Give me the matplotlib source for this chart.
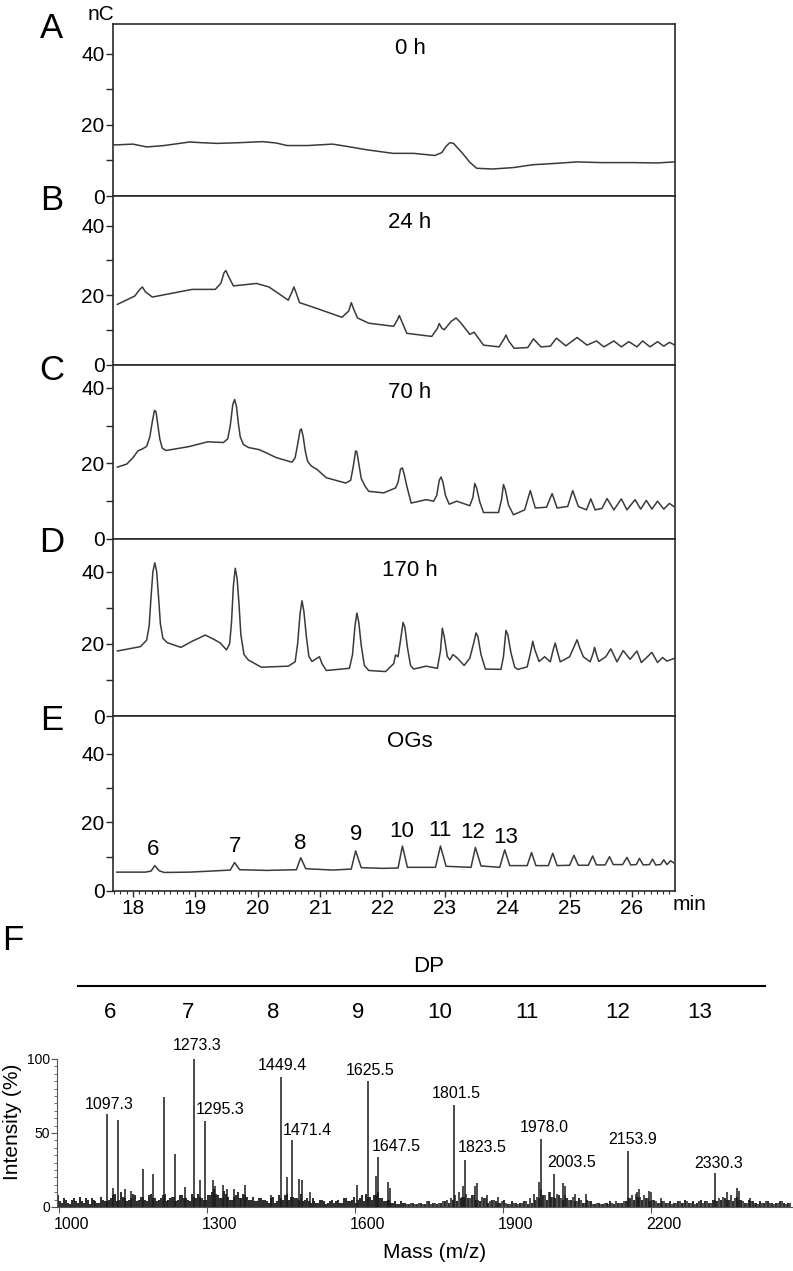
import matplotlib
matplotlib.use('Agg')
import matplotlib.pyplot as plt
from matplotlib.ticker import MultipleLocator, FixedLocator
import matplotlib.transforms as mtransforms
from matplotlib.lines import Line2D

plt.rcParams['font.family'] = ['Liberation Sans', 'DejaVu Sans']

# ---------------- data: chromatograms (time in min, signal in nC) ----------------
t_A = [17.70, 17.76, 18.00, 18.22, 18.50, 18.91, 19.10, 19.35, 19.70, 20.08, 20.30, 20.47,
       20.80, 21.20, 21.45, 21.75, 22.17, 22.50, 22.84, 22.95, 23.02, 23.08, 23.14, 23.20,
       23.27, 23.40, 23.51, 23.77, 24.10, 24.41, 24.80, 25.12, 25.50, 26.01, 26.40, 26.69]
y_A = [14.4, 14.4, 14.6, 13.8, 14.2, 15.2, 15.0, 14.8, 15.0, 15.3, 14.9, 14.2,
       14.2, 14.6, 13.9, 13.0, 12.0, 12.0, 11.4, 12.2, 14.0, 15.0, 14.8, 13.6,
       12.3, 9.5, 7.8, 7.6, 8.0, 8.8, 9.2, 9.6, 9.4, 9.4, 9.3, 9.6]

t_B = [17.75, 18.03, 18.10, 18.15, 18.20, 18.31, 18.95, 19.32, 19.41, 19.46, 19.49, 19.53,
       19.61, 19.98, 20.18, 20.49, 20.55, 20.58, 20.62, 20.67, 20.92, 21.35, 21.46, 21.50,
       21.54, 21.60, 21.78, 22.18, 22.24, 22.27, 22.31, 22.39, 22.79, 22.88, 22.91, 22.95,
       22.99, 23.10, 23.18, 23.26, 23.40, 23.47, 23.62, 23.87, 23.95, 23.98, 24.02, 24.11,
       24.33, 24.42, 24.54, 24.69, 24.79, 24.94, 25.12, 25.28, 25.43, 25.55, 25.71, 25.83,
       25.95, 26.08, 26.17, 26.29, 26.41, 26.51, 26.60, 26.69]
y_B = [17.4, 19.8, 21.5, 22.4, 21.0, 19.5, 21.7, 21.7, 23.5, 26.5, 27.1, 25.5,
       22.7, 23.4, 22.4, 18.6, 21.0, 22.4, 20.5, 17.9, 16.4, 13.7, 15.5, 17.9,
       16.0, 13.5, 12.0, 11.1, 13.0, 14.2, 12.5, 9.1, 8.2, 10.5, 11.9, 10.6,
       10.1, 12.5, 13.5, 12.0, 8.8, 9.4, 5.7, 5.2, 7.5, 8.6, 7.0, 4.8,
       5.0, 7.5, 5.2, 5.4, 7.7, 5.5, 7.9, 5.7, 6.9, 5.2, 6.9, 5.2,
       6.7, 5.2, 6.9, 5.2, 6.7, 5.4, 6.5, 5.7]

t_C = [17.75, 17.90, 18.00, 18.08, 18.15, 18.22, 18.27, 18.31, 18.345, 18.37, 18.40, 18.43,
       18.47, 18.53, 18.89, 19.20, 19.45, 19.52, 19.56, 19.60, 19.63, 19.66, 19.69, 19.72,
       19.77, 19.85, 20.03, 20.30, 20.55, 20.60, 20.64, 20.68, 20.70, 20.73, 20.76, 20.80,
       20.86, 20.95, 21.10, 21.41, 21.49, 21.53, 21.57, 21.59, 21.62, 21.66, 21.72, 21.78,
       22.02, 22.21, 22.25, 22.29, 22.32, 22.35, 22.39, 22.46, 22.70, 22.82, 22.87, 22.91,
       22.94, 22.97, 23.01, 23.07, 23.19, 23.40, 23.45, 23.48, 23.51, 23.56, 23.62, 23.86,
       23.91, 23.94, 23.97, 24.02, 24.10, 24.28, 24.37, 24.45, 24.63, 24.72, 24.80, 24.97,
       25.05, 25.14, 25.27, 25.34, 25.41, 25.52, 25.60, 25.71, 25.83, 25.92, 26.05, 26.14,
       26.23, 26.32, 26.41, 26.51, 26.60, 26.67]
y_C = [19.0, 19.8, 21.5, 23.3, 23.8, 24.5, 27.0, 31.0, 34.0, 33.6, 30.0, 26.5,
       24.0, 23.4, 24.4, 25.7, 25.5, 26.5, 30.0, 35.5, 36.9, 35.0, 30.5, 27.0,
       25.0, 24.2, 23.6, 21.5, 20.3, 21.5, 25.0, 28.8, 29.1, 27.0, 23.5, 20.5,
       19.3, 18.4, 16.2, 14.8, 15.5, 19.0, 23.3, 23.0, 20.0, 16.0, 14.0, 12.6,
       12.2, 13.5, 15.0, 18.5, 18.8, 17.0, 14.0, 9.5, 10.4, 10.0, 11.5, 15.5,
       16.4, 15.0, 11.5, 9.2, 10.0, 8.8, 11.0, 14.7, 13.5, 9.8, 7.0, 7.0,
       10.5, 14.4, 13.0, 9.0, 6.4, 7.7, 12.8, 8.2, 8.4, 12.0, 8.2, 8.6,
       12.8, 8.6, 7.7, 10.6, 7.7, 8.1, 10.7, 7.7, 10.6, 7.7, 10.4, 7.9,
       10.2, 7.9, 10.0, 7.9, 9.4, 8.6]

t_D = [17.75, 18.12, 18.22, 18.26, 18.29, 18.32, 18.35, 18.38, 18.41, 18.44, 18.48, 18.55,
       18.77, 18.95, 19.16, 19.30, 19.40, 19.50, 19.55, 19.58, 19.61, 19.64, 19.67, 19.70,
       19.73, 19.78, 19.85, 20.06, 20.49, 20.60, 20.64, 20.68, 20.71, 20.74, 20.78, 20.82,
       20.87, 20.95, 20.99, 21.03, 21.10, 21.47, 21.52, 21.56, 21.59, 21.62, 21.66, 21.71,
       21.78, 22.05, 22.18, 22.21, 22.25, 22.29, 22.33, 22.36, 22.40, 22.45, 22.50, 22.70,
       22.88, 22.93, 22.96, 22.99, 23.04, 23.08, 23.13, 23.19, 23.31, 23.40, 23.46, 23.50,
       23.53, 23.58, 23.65, 23.90, 23.94, 23.98, 24.01, 24.06, 24.12, 24.17, 24.32, 24.38,
       24.41, 24.44, 24.51, 24.60, 24.69, 24.74, 24.77, 24.81, 24.85, 25.00, 25.08, 25.12,
       25.16, 25.22, 25.33, 25.38, 25.40, 25.44, 25.47, 25.58, 25.66, 25.76, 25.86, 25.97,
       26.08, 26.15, 26.32, 26.41, 26.49, 26.56, 26.67]
y_D = [18.0, 19.2, 21.0, 25.0, 33.0, 40.0, 42.4, 40.0, 33.0, 25.5, 21.5, 20.3,
       19.0, 20.7, 22.4, 21.2, 20.2, 18.3, 20.0, 26.0, 36.0, 40.9, 38.0, 31.0,
       22.5, 17.0, 15.5, 13.5, 13.8, 15.0, 20.0, 28.5, 31.9, 29.0, 22.0, 16.5,
       15.1, 16.0, 16.4, 14.5, 12.6, 13.2, 17.0, 25.0, 28.5, 26.0, 19.5, 14.0,
       12.6, 12.3, 14.5, 16.9, 16.4, 21.0, 25.9, 24.5, 19.0, 14.0, 13.0, 13.8,
       13.2, 18.0, 24.3, 22.0, 16.5, 15.5, 17.0, 16.2, 14.0, 16.0, 20.0, 23.0,
       22.0, 17.0, 13.0, 12.9, 16.5, 23.7, 22.5, 17.5, 13.5, 12.9, 13.6, 18.0,
       20.7, 18.5, 15.1, 16.4, 15.0, 18.5, 20.2, 17.5, 15.0, 16.4, 19.5, 21.1,
       19.0, 16.4, 15.0, 17.5, 19.0, 16.5, 15.1, 16.4, 18.6, 15.0, 18.1, 15.7,
       18.0, 14.8, 17.6, 14.8, 16.2, 15.2, 15.9]

t_E = [17.74, 18.20, 18.29, 18.35, 18.42, 18.50, 18.91, 19.35, 19.56, 19.63, 19.71, 20.15,
       20.62, 20.69, 20.77, 21.21, 21.50, 21.57, 21.66, 22.00, 22.25, 22.32, 22.40, 22.85,
       22.93, 23.02, 23.42, 23.49, 23.58, 23.88, 23.96, 24.04, 24.32, 24.39, 24.46, 24.66,
       24.73, 24.80, 25.00, 25.07, 25.14, 25.30, 25.37, 25.43, 25.57, 25.64, 25.70, 25.85,
       25.92, 25.98, 26.07, 26.12, 26.18, 26.28, 26.33, 26.38, 26.46, 26.51, 26.56, 26.62,
       26.67]
y_E = [5.5, 5.5, 5.8, 7.4, 5.9, 5.4, 5.5, 5.9, 6.1, 8.3, 6.2, 6.0,
       6.2, 9.7, 6.5, 6.1, 6.4, 11.7, 6.8, 6.6, 6.7, 13.1, 6.9, 6.9,
       13.1, 7.2, 6.9, 12.7, 7.3, 6.9, 12.0, 7.4, 7.4, 11.2, 7.4, 7.4,
       11.0, 7.4, 7.5, 10.4, 7.5, 7.5, 10.2, 7.6, 7.6, 10.0, 7.7, 7.7,
       9.8, 7.6, 7.7, 9.5, 7.6, 7.7, 9.3, 7.6, 7.7, 9.1, 7.7, 8.8,
       8.2]

panel_letters = ['A', 'B', 'C', 'D', 'E']
panel_titles = ['0 h', '24 h', '70 h', '170 h', 'OGs']
times = [t_A, t_B, t_C, t_D, t_E]
signals = [y_A, y_B, y_C, y_D, y_E]

# OG standard peak labels (degree of polymerisation)
og_dp = ['6', '7', '8', '9', '10', '11', '12', '13']

time_ticks = [18, 19, 20, 21, 22, 23, 24, 25, 26]
nc_ticks = [0, 20, 40]

# ---------------- data: MALDI mass spectrum ----------------
ms_mz = [1097.3, 1109.0, 1119.3, 1134.0, 1147.0, 1169.6, 1190.6, 1212.0, 1235.0, 1255.0,
         1273.3, 1286.0, 1295.3, 1311.5, 1316.0, 1332.0, 1340.0, 1355.0, 1377.0, 1429.0,
         1449.4, 1463.0, 1471.4, 1487.0, 1492.0, 1509.0, 1604.7, 1625.5, 1642.6, 1647.5,
         1667.5, 1672.0, 1801.5, 1819.6, 1823.5, 1843.0, 1847.0, 1868.0, 1890.5, 1974.0,
         1978.0, 1996.0, 2003.5, 2022.0, 2026.0, 2046.0, 2067.7, 2153.9, 2172.0, 2176.0,
         2197.0, 2201.0, 2220.0, 2330.3, 2354.0, 2375.0, 2379.0, 2400.0]
ms_int = [63, 13, 59, 12, 11, 26, 22, 74, 36, 13.5,
          100, 18, 58, 18, 14, 15, 12, 12, 15, 8,
          88, 20, 45, 19, 18, 10, 15, 85, 21, 34,
          17, 13, 69, 14, 32, 14, 16, 8, 7, 17,
          46, 10, 22, 16, 14, 9, 9, 38, 10, 12,
          11, 10, 6, 23, 10, 13, 11, 6]

# low-level noise, sampled every 8 m/z from 998 to 2478
noise_mz = list(range(998, 2486, 8))
noise_int = [8, 3, 5, 2, 6, 3, 4, 6, 2, 5, 3, 7, 4,
             5, 8, 4, 10, 6, 5, 9, 4, 7, 5, 8, 6, 4,
             6, 9, 5, 7, 4, 8, 6, 5, 9, 6, 7, 5, 8,
             10, 9, 6, 11, 7, 5, 8, 6, 9, 7, 5, 4, 6,
             5, 4, 6, 3, 8, 5, 9, 7, 6, 5, 4, 6, 3,
             4, 3, 5, 2, 4, 3, 5, 3, 6, 4, 7, 5, 8,
             9, 7, 8, 10, 6, 4, 5, 3, 2, 4, 3, 2, 3,
             2, 3, 2, 4, 3, 2, 3, 4, 3, 5, 4, 6, 7,
             6, 8, 5, 4, 6, 3, 5, 4, 3, 5, 2, 4, 3,
             3, 4, 2, 3, 5, 6, 8, 5, 7, 6, 8, 5, 6,
             5, 4, 6, 3, 5, 4, 2, 3, 2, 3, 4, 2, 3,
             3, 4, 6, 5, 7, 5, 6, 4, 5, 3, 4, 3, 4,
             3, 4, 3, 5, 3, 4, 3, 5, 4, 3, 5, 4, 5,
             6, 5, 4, 7, 5, 3, 5, 4, 3, 4, 3, 4, 3,
             3, 4, 3, 3]
# interleaved noise trace, 1002-1698
noise2_mz = list(range(1002, 1702, 8))
noise2_int = [4, 6, 3, 5, 4, 7, 3, 5, 6, 4,
              3, 5, 4, 6, 9, 5, 7, 4, 6, 8,
              5, 7, 4, 9, 6, 5, 8, 4, 6, 7,
              5, 8, 6, 4, 7, 9, 6, 5, 8, 12,
              8, 6, 9, 5, 7, 10, 6, 8, 5, 7,
              4, 6, 5, 3, 7, 4, 6, 8, 5, 7,
              6, 9, 5, 4, 6, 3, 5, 4, 3, 5,
              4, 3, 6, 4, 5, 3, 6, 4, 7, 5,
              8, 6, 4, 5, 3, 4, 2, 3]
# interleaved noise trace, 1706-2482
noise3_mz = list(range(1706, 2486, 8))
noise3_int = [2, 3, 2, 3, 2, 4, 2, 3, 3, 4,
              5, 6, 8, 10, 7, 9, 6, 8, 5, 7,
              6, 4, 5, 3, 4, 3, 2, 3, 2, 3,
              4, 6, 9, 7, 12, 8, 10, 7, 9, 6,
              8, 5, 7, 4, 5, 3, 4, 2, 3, 2,
              3, 2, 3, 4, 3, 4, 6, 8, 9, 7,
              8, 6, 5, 4, 3, 4, 3, 2, 3, 4,
              3, 4, 3, 2, 4, 3, 4, 3, 5, 6,
              7, 5, 8, 6, 5, 4, 3, 4, 3, 2,
              3, 4, 3, 2, 3, 4, 2, 3]

ms_labels = ['1097.3', '1273.3', '1295.3', '1449.4', '1471.4', '1625.5', '1647.5',
             '1801.5', '1823.5', '1978.0', '2003.5', '2153.9', '2330.3']
mz_ticks = [1000, 1300, 1600, 1900, 2200]
int_ticks = [0, 50, 100]
dp_header = ['6', '7', '8', '9', '10', '11', '12', '13']

# ---------------- layout (pixels) ----------------
W, H = 793, 1271
fig = plt.figure(figsize=(W / 100, H / 100), dpi=100)


def box(l, t, r, b):
    return [l / W, 1 - b / H, (r - l) / W, (b - t) / H]


def fx(x):
    return x / W


def fy(y):
    return 1 - y / H


panel_px = [(24, 196), (196, 365), (365, 539), (539, 716), (716, 891)]
panel_ytop = [48.4, 48.5, 46.0, 49.0, 51.0]
title_y = [48, 223, 393, 571, 742]
letter_y = [28, 201, 370, 543, 721]
og_label_pos = [(18.32, 12.2), (19.63, 13.1), (20.68, 13.9), (21.57, 16.5),
                (22.31, 17.4), (22.92, 17.5), (23.45, 17.1), (23.98, 15.6)]

line_col = '#3a3a3a'
spine_col = '#2a2a2a'

for i in range(5):
    top, bot = panel_px[i]
    ax = fig.add_axes(box(113, top, 675, bot))
    ax.plot(times[i], signals[i], color=line_col, lw=1.1)
    ax.set_xlim(17.68, 26.69)
    ax.set_ylim(0, panel_ytop[i])
    ax.yaxis.set_major_locator(FixedLocator(nc_ticks))
    ax.yaxis.set_minor_locator(FixedLocator([10, 30]))
    ax.tick_params(axis='y', which='both', direction='out', length=5, width=1,
                   labelsize=15, pad=1, color=spine_col)
    for sp in ax.spines.values():
        sp.set_color(spine_col)
        sp.set_linewidth(1.2)
    if i < 4:
        ax.tick_params(axis='x', which='both', bottom=False, labelbottom=False)
    else:
        ax.xaxis.set_major_locator(FixedLocator(time_ticks))
        ax.xaxis.set_minor_locator(MultipleLocator(0.1))
        ax.tick_params(axis='x', which='major', direction='out', length=4, width=1,
                       labelsize=15, pad=2, color=spine_col)
        ax.tick_params(axis='x', which='minor', direction='out', length=2, width=0.8,
                       color=spine_col)
        for lab, (xp, yp) in zip(og_dp, og_label_pos):
            ax.text(xp, yp, lab, ha='center', va='center', fontsize=16)
    fig.text(fx(410), fy(title_y[i]), panel_titles[i], ha='center', va='center', fontsize=16)
    fig.text(fx(52), fy(letter_y[i]), panel_letters[i], ha='center', va='center', fontsize=25)

fig.text(fx(101), fy(15), 'nC', ha='center', va='center', fontsize=15)
fig.text(fx(690), fy(905), 'min', ha='center', va='center', fontsize=15)

# ---------------- panel F ----------------
fig.text(fx(13), fy(941), 'F', ha='center', va='center', fontsize=25)
fig.add_artist(Line2D([fx(78), fx(765)], [fy(986), fy(986)], color='black', lw=1.5))
fig.text(fx(429), fy(966), 'DP', ha='center', va='center', fontsize=16)
dp_x = [110, 188, 273, 358, 440, 527, 618, 700]
for lab, xp in zip(dp_header, dp_x):
    fig.text(fx(xp), fy(1013), lab, ha='center', va='center', fontsize=16)

axm = fig.add_axes(box(57, 1059, 792, 1207))
axm.vlines(noise_mz, 0, noise_int, color='#1a1a1a', lw=1.3, clip_on=False)
axm.vlines(noise2_mz, 0, noise2_int, color='#1a1a1a', lw=1.3, clip_on=False)
axm.vlines(noise3_mz, 0, noise3_int, color='#1a1a1a', lw=1.1, clip_on=False)
axm.vlines(ms_mz, 0, ms_int, color='#1a1a1a', lw=1.1, clip_on=False)
axm.set_xlim(996, 2486)
axm.set_ylim(0, 100)
axm.spines['top'].set_visible(False)
axm.spines['right'].set_visible(False)
axm.spines['left'].set_color('#555555')
axm.spines['bottom'].set_color('#555555')
axm.xaxis.set_major_locator(FixedLocator(mz_ticks))
axm.yaxis.set_major_locator(FixedLocator(int_ticks))
axm.yaxis.set_minor_locator(MultipleLocator(5))
axm.tick_params(axis='x', direction='out', length=4, labelsize=11.5, pad=3, color='#555555')
axm.tick_params(axis='y', which='major', direction='out', length=4, labelsize=10, pad=1,
                color='#555555')
axm.tick_params(axis='y', which='minor', direction='out', length=2, color='#555555')
shift = mtransforms.ScaledTranslation(13 / 100, 0, fig.dpi_scale_trans)
for lab in axm.get_xticklabels():
    lab.set_transform(lab.get_transform() + shift)

ms_label_pos = [(1101, 69), (1280, 109), (1326, 66), (1453.5, 95.3), (1503, 51.6),
                (1630.5, 92), (1683, 40.7), (1805, 76.8), (1857, 40.3), (1984.6, 53.8),
                (2040, 30.2), (2163.5, 45.3), (2337, 29.5)]
for lab, (xp, yp) in zip(ms_labels, ms_label_pos):
    axm.text(xp, yp, lab, ha='center', va='center', fontsize=11.5, clip_on=False)

fig.text(fx(13), fy(1122), 'Intensity (%)', rotation=90, ha='center', va='center', fontsize=15)
fig.text(fx(435), fy(1253), 'Mass (m/z)', ha='center', va='center', fontsize=15)

fig.savefig('out.png', dpi=100)
